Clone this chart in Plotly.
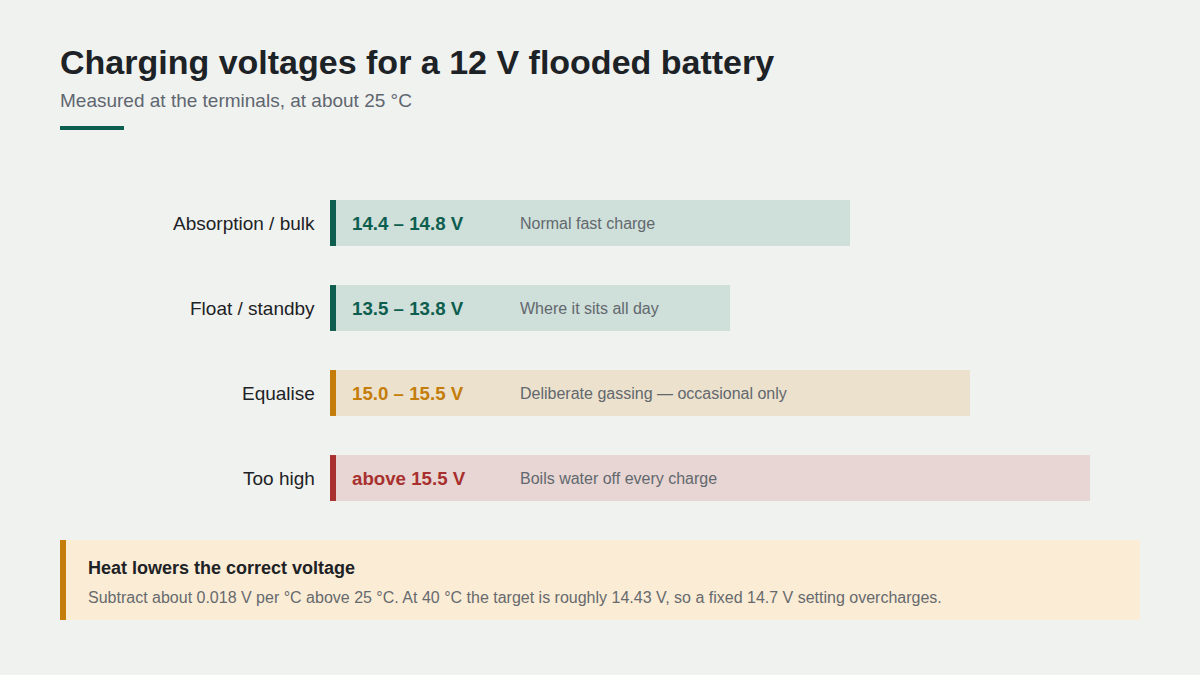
import plotly.graph_objects as go

# data
stages = ["Absorption / bulk", "Float / standby", "Equalise", "Too high"]
ranges = ["14.4 – 14.8 V", "13.5 – 13.8 V", "15.0 – 15.5 V", "above 15.5 V"]
notes = ["Normal fast charge", "Where it sits all day",
         "Deliberate gassing — occasional only", "Boils water off every charge"]
bar_len = [520, 400, 640, 760]
accent_len = [6, 6, 6, 6]

ink = ["#0e5e50", "#0e5e50", "#c47d0a", "#a8302e"]
fill = ["#cfdfd9", "#cfdfd9", "#ece1cc", "#e7d6d3"]

BG = "#f0f2ef"
FONT = "Liberation Sans, Arial, sans-serif"
W, H = 1200, 675


def px(x):
    return x / W


def py(y):
    return 1 - y / H


fig = go.Figure()
fig.add_trace(go.Bar(
    y=stages, x=bar_len, orientation="h", width=0.54,
    marker=dict(color=fill, line=dict(width=0)), hoverinfo="skip"
))
fig.add_trace(go.Bar(
    y=stages, x=accent_len, orientation="h", width=0.54,
    marker=dict(color=ink, line=dict(width=0)), hoverinfo="skip"
))

annotations = []
for s, r, n, c in zip(stages, ranges, notes, ink):
    annotations.append(dict(x=px(317), xref="paper", y=s, yref="y", text=s,
                            xanchor="right", showarrow=False,
                            font=dict(size=19, color="#1d2226", family=FONT)))
    annotations.append(dict(x=20, xref="x", y=s, yref="y", text="<b>%s</b>" % r,
                            xanchor="left", showarrow=False,
                            font=dict(size=18.7, color=c, family=FONT)))
    annotations.append(dict(x=188, xref="x", y=s, yref="y", text=n,
                            xanchor="left", showarrow=False,
                            font=dict(size=16, color="#62686e", family=FONT)))

# title block and callout
annotations += [
    dict(x=px(58), y=py(62), xref="paper", yref="paper",
         text="<b>Charging voltages for a 12 V flooded battery</b>",
         xanchor="left", yanchor="middle", showarrow=False,
         font=dict(size=34, color="#1d2226", family=FONT)),
    dict(x=px(58), y=py(100), xref="paper", yref="paper",
         text="Measured at the terminals, at about 25 °C",
         xanchor="left", yanchor="middle", showarrow=False,
         font=dict(size=19, color="#5f6670", family=FONT)),
    dict(x=px(86), y=py(568), xref="paper", yref="paper",
         text="<b>Heat lowers the correct voltage</b>",
         xanchor="left", yanchor="middle", showarrow=False,
         font=dict(size=18, color="#1d2226", family=FONT)),
    dict(x=px(86), y=py(597), xref="paper", yref="paper",
         text="Subtract about 0.018 V per °C above 25 °C. At 40 °C the target is roughly 14.43 V, so a fixed 14.7 V setting overcharges.",
         xanchor="left", yanchor="middle", showarrow=False,
         font=dict(size=16, color="#666a6e", family=FONT)),
]

shapes = [
    dict(type="rect", xref="paper", yref="paper", x0=px(60), x1=px(124), y0=py(126), y1=py(130),
         fillcolor="#0e5e50", line=dict(width=0), layer="below"),
    dict(type="rect", xref="paper", yref="paper", x0=px(60), x1=px(1140), y0=py(540), y1=py(620),
         fillcolor="#fbecd5", line=dict(width=0), layer="below"),
    dict(type="rect", xref="paper", yref="paper", x0=px(60), x1=px(66), y0=py(540), y1=py(620),
         fillcolor="#c47d0a", line=dict(width=0), layer="below"),
]

fig.update_layout(
    width=W, height=H,
    paper_bgcolor=BG, plot_bgcolor="rgba(0,0,0,0)",
    margin=dict(l=0, r=0, t=0, b=0),
    barmode="overlay", showlegend=False,
    xaxis=dict(domain=[px(330), 1], range=[0, 870], visible=False, fixedrange=True),
    yaxis=dict(domain=[py(520.5), py(180.5)], autorange="reversed",
               visible=False, fixedrange=True),
    annotations=annotations, shapes=shapes,
)

fig.write_html("out.html", config={"displayModeBar": False},
               post_script="document.body.style.margin='0';")
